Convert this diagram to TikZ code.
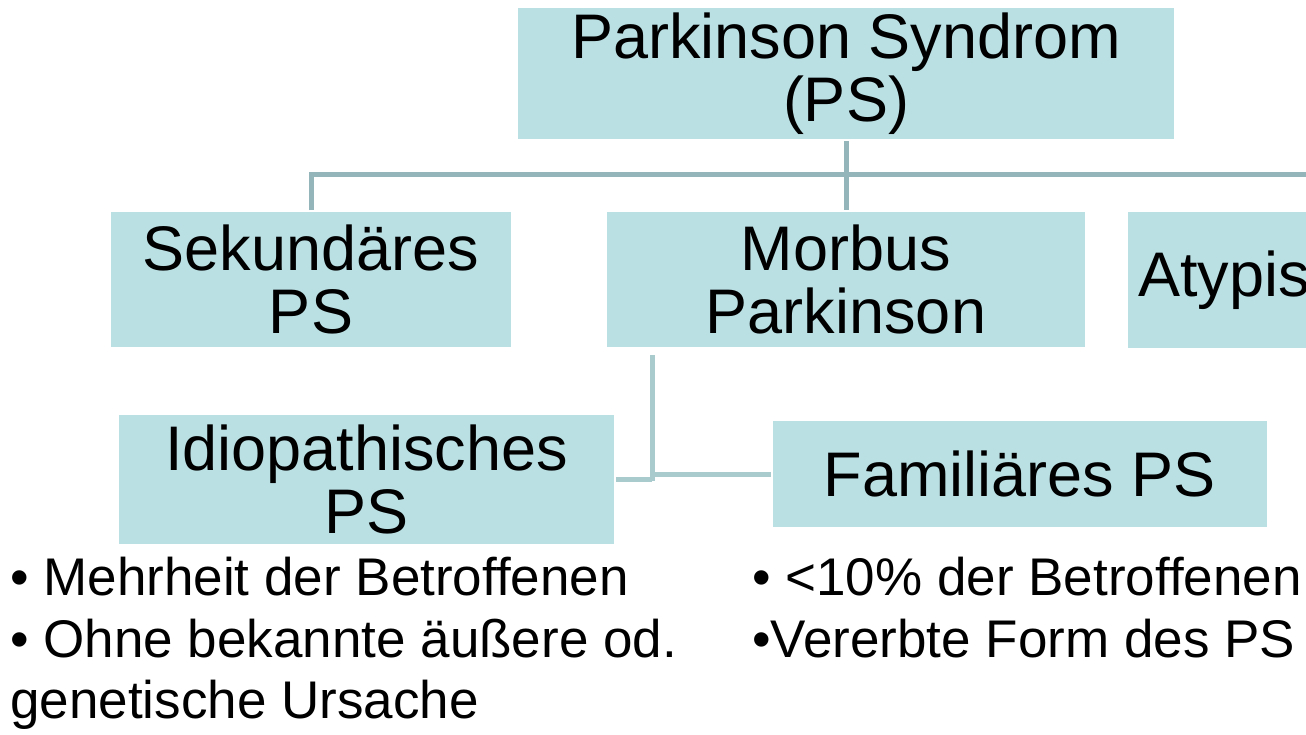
\documentclass[tikz,border=0pt]{standalone}
\usepackage{fontspec}
\setmainfont{Liberation Sans}
\definecolor{boxfill}{HTML}{BAE0E4}
\definecolor{lineA}{HTML}{94B5B9}
\definecolor{lineB}{HTML}{A9CBCE}
\tikzset{
  boxnode/.style={fill=boxfill, draw=white, line width=2pt, inner sep=0pt, align=center,
    font=\fontsize{63}{63}\selectfont},
  connA/.style={draw=lineA, line width=5pt},
  connB/.style={draw=lineB, line width=5pt},
  bullettext/.style={anchor=base west, inner sep=0pt, font=\fontsize{53}{62}\selectfont}
}
\begin{document}
\begin{tikzpicture}[x=1pt,y=-1pt]
\useasboundingbox (0,0) rectangle (1306,734);
\clip (0,0) rectangle (1306,734);
\fill[white] (0,0) rectangle (1306,734);
% connectors first (behind boxes)
\coordinate (bus) at (848,174);
\coordinate (j) at (652,481);
% boxes
\node[boxnode, minimum width=658pt, minimum height=133pt] (ps) at (846,73.5) {Parkinson Syndrom\\(PS)};
\node[boxnode, minimum width=402pt, minimum height=137pt] (sek) at (311,279.5) {Sekundäres\\PS};
\node[boxnode, minimum width=480pt, minimum height=137pt] (mp) at (846,279.5) {Morbus\\Parkinson};
\node[boxnode, minimum width=420pt, minimum height=138pt, text width=400pt, align=left] (aty) at (1337,280) {\hspace*{1pt}Atypisches};
\node[boxnode, minimum width=497pt, minimum height=131pt] (idio) at (366.5,479.5) {Idiopathisches\\PS};
\node[boxnode, minimum width=496pt, minimum height=108pt] (fam) at (1020,474) {Familiäres PS};
% connectors
\draw[connA] (ps.south) -- (mp.north);
\draw[connA] (sek.north) -- (sek.north |- bus) -- (aty.north |- bus) -- (aty.north);
\draw[connB] (mp.south -| j) ++(0,6) -- (j);
\draw[connB] (idio.east) -- (idio.east -| j);
\draw[connB] (fam.west) -- (fam.west -| j) -- (j);
% bullet texts
\node[bullettext] (b1) at (10,595) {• Mehrheit der Betroffenen};
\node[bullettext] (b2) at (10,657) {• Ohne bekannte äußere od.};
\node[bullettext] (b3) at (10,718) {genetische Ursache};
\node[bullettext] (b4) at (752,595) {• <10\% der Betroffenen};
\node[bullettext] (b5) at (752,657) {•Vererbte Form des PS};
\end{tikzpicture}
\end{document}
